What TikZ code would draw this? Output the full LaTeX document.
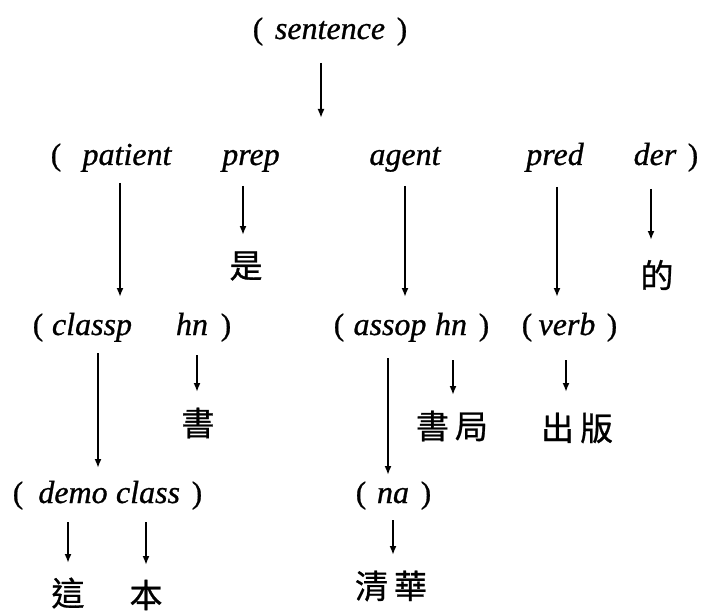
\documentclass[tikz,border=0pt]{standalone}
\usepackage{fontspec}
\setmainfont{Liberation Serif}[UprightFeatures={FakeBold=0.8},ItalicFeatures={FakeBold=0.8}]
\newfontfamily\cjk{Noto Sans CJK TC}[FakeBold=0.8]
\usetikzlibrary{arrows.meta,calc}
\tikzset{
  word/.style={font=\fontsize{32}{38}\selectfont\itshape, inner sep=0pt, anchor=base},
  paren/.style={font=\fontsize{31}{38}\selectfont, inner sep=0pt, anchor=base},
  zh/.style={font=\fontsize{33}{38}\cjk, inner sep=0pt, anchor=center},
  arr/.style={line width=1.9pt, -{Latex[length=9pt,width=7pt]}}
}
\begin{document}
\begin{tikzpicture}[x=1pt,y=-1pt]
\useasboundingbox (0,0) rectangle (703,612);
% row 1
\node[paren] (lp1) at (258,39) {(};
\node[word] (sentence) at (330,39) {sentence};
\node[paren] (rp1) at (402,39) {)};
% row 2
\node[paren] (lp2) at (56,165) {(};
\node[word] (patient) at (127,165) {patient};
\node[word] (prep) at (251,165) {prep};
\node[word] (agent) at (405,165) {agent};
\node[word] (pred) at (555,165) {pred};
\node[word] (der) at (655,165) {der};
\node[paren] (rp2) at (693,165) {)};
\node[zh] (shi) at (246,266) {是};
\node[zh] (de) at (657,275) {的};
% row 3
\node[paren] (lp3a) at (38,335) {(};
\node[word] (classp) at (92,335) {classp};
\node[word] (hna) at (192,335) {hn};
\node[paren] (rp3a) at (226,335) {)};
\node[paren] (lp3b) at (339,335) {(};
\node[word] (assop) at (390,335) {assop};
\node[word] (hnb) at (451,335) {hn};
\node[paren] (rp3b) at (484,335) {)};
\node[paren] (lp3c) at (527,335) {(};
\node[word] (verb) at (567,335) {verb};
\node[paren] (rp3c) at (612,335) {)};
\node[zh] (shu) at (198,423) {書};
\node[zh] (shuju) at (452,426) {書\hspace{6pt}局};
\node[zh] (chuban) at (577,428) {出\hspace{6pt}版};
% row 4
\node[paren] (lp4a) at (18,503) {(};
\node[word] (demo) at (73,503) {demo};
\node[word] (class) at (148,503) {class};
\node[paren] (rp4a) at (197,503) {)};
\node[paren] (lp4b) at (361,503) {(};
\node[word] (na) at (393,503) {na};
\node[paren] (rp4b) at (426,503) {)};
\node[zh] (zhe) at (68,593) {這};
\node[zh] (ben) at (146,595) {本};
\node[zh] (qinghua) at (391,586) {清\hspace{6pt}華};
% arrows
\draw[arr] ($(sentence.base)+(-9pt,-24pt)$) -- ($(sentence.base |- patient.base)+(-9pt,47pt)$);
\draw[arr] ($(patient.base)+(-7pt,-18pt)$) -- ($(patient.base |- classp.base)+(-7pt,38pt)$);
\draw[arr] ($(prep.base)+(-8pt,-21pt)$) -- ($(prep.base |- shi.center)+(-8pt,31pt)$);
\draw[arr] ($(agent.base)+(0pt,-21pt)$) -- ($(agent.base |- assop.base)+(0pt,38pt)$);
\draw[arr] ($(pred.base)+(2pt,-22pt)$) -- ($(pred.base |- verb.base)+(2pt,38pt)$);
\draw[arr] ($(der.base)+(-4pt,-24pt)$) -- ($(der.base |- de.center)+(-4pt,35pt)$);
\draw[arr] ($(classp.base)+(6pt,-18pt)$) -- ($(classp.base |- demo.base)+(6pt,35pt)$);
\draw[arr] ($(hna.base)+(5pt,-20pt)$) -- ($(hna.base |- shu.center)+(5pt,31pt)$);
\draw[arr] ($(assop.base)+(-2pt,-23pt)$) -- ($(assop.base |- na.base)+(-2pt,28pt)$);
\draw[arr] ($(hnb.base)+(2pt,-25pt)$) -- ($(hnb.base |- shuju.center)+(2pt,31pt)$);
\draw[arr] ($(verb.base)+(-1pt,-25pt)$) -- ($(verb.base |- chuban.center)+(-1pt,36pt)$);
\draw[arr] ($(demo.base)+(-5pt,-19pt)$) -- ($(demo.base |- zhe.center)+(-5pt,30pt)$);
\draw[arr] ($(class.base)+(-2pt,-19pt)$) -- ($(class.base |- ben.center)+(-2pt,30pt)$);
\draw[arr] ($(na.base)+(0pt,-17pt)$) -- ($(na.base |- qinghua.center)+(0pt,31pt)$);
\end{tikzpicture}
\end{document}
